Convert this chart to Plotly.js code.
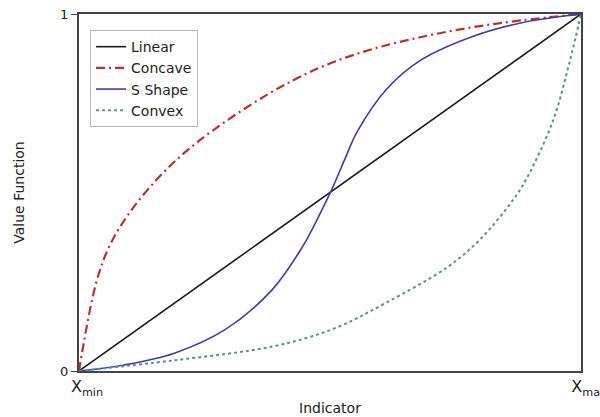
<!DOCTYPE html>
<html>
<head>
<meta charset="utf-8">
<script src="https://cdn.plot.ly/plotly-3.0.1.min.js"></script>
<style>html,body{margin:0;padding:0;background:#fff;}#chart{width:600px;height:417px;}</style>
</head>
<body>
<div id="chart"></div>
<script>
// Data (normalised indicator 0..1, value function 0..1)
const linearX = [0, 1];
const linearY = [0, 1];

const concaveX = [0, 0.007, 0.034, 0.06, 0.10, 0.16, 0.233, 0.37, 0.48, 0.58, 0.68, 0.78, 0.88, 1];
const concaveY = [0, 0.059, 0.246, 0.348, 0.442, 0.544, 0.638, 0.77, 0.85, 0.90, 0.935, 0.962, 0.982, 1];

const sShapeX = [0, 0.09, 0.19, 0.29, 0.385, 0.446, 0.48, 0.504, 0.53, 0.554, 0.613, 0.68, 0.78, 0.88, 1];
const sShapeY = [0, 0.017, 0.05, 0.115, 0.228, 0.35, 0.44, 0.51, 0.595, 0.67, 0.79, 0.87, 0.935, 0.975, 1];

const convexX = [0, 0.19, 0.39, 0.51, 0.61, 0.733, 0.80, 0.865, 0.89, 0.944, 0.978, 1];
const convexY = [0, 0.03, 0.07, 0.12, 0.19, 0.29, 0.37, 0.48, 0.535, 0.70, 0.87, 1];

const seriesNames = ['Linear', 'Concave', 'S Shape', 'Convex'];
const xTickVals = [0, 1];
const xTickText = ['X<sub>min</sub>', 'X<sub>max</sub>'];
const yTickVals = [0, 1];
const yTickText = ['0', '1'];

const traces = [
  {x: linearX, y: linearY, name: seriesNames[0], mode: 'lines',
   line: {color: '#1a1a1a', width: 1.6}},
  {x: concaveX, y: concaveY, name: seriesNames[1], mode: 'lines',
   line: {color: '#b8322c', width: 2.2, dash: '9px,4px,2px,4px', shape: 'spline', smoothing: 1}},
  {x: sShapeX, y: sShapeY, name: seriesNames[2], mode: 'lines',
   line: {color: '#3e3f9c', width: 1.6, shape: 'spline', smoothing: 1}},
  {x: convexX, y: convexY, name: seriesNames[3], mode: 'lines',
   line: {color: '#5f8f90', width: 2, dash: 'dot', shape: 'spline', smoothing: 1}}
];

const font = {family: '"DejaVu Sans", "Liberation Sans", Arial, sans-serif', color: '#222'};

const layout = {
  width: 600, height: 417,
  margin: {l: 79, r: 19, t: 14, b: 46},
  paper_bgcolor: '#fff', plot_bgcolor: '#fff',
  font: Object.assign({size: 14}, font),
  showlegend: true,
  legend: {
    x: 0.022, y: 0.955, xanchor: 'left', yanchor: 'top',
    bgcolor: '#fff', bordercolor: '#bbbbbb', borderwidth: 1,
    font: Object.assign({}, font, {size: 14}),
    tracegroupgap: 0, itemwidth: 30
  },
  xaxis: {
    range: [0, 1], tickvals: xTickVals, ticktext: xTickText,
    showgrid: false, zeroline: false, showline: true, mirror: true,
    linecolor: '#444', linewidth: 2, ticks: '', ticklabelshift: 8,
    ticklabeloverflow: 'allow',
    tickfont: Object.assign({}, font, {size: 16}),
    title: {text: 'Indicator', font: Object.assign({}, font, {size: 14}), standoff: 6}
  },
  yaxis: {
    range: [0, 1], tickvals: yTickVals, ticktext: yTickText,
    showgrid: false, zeroline: false, showline: true, mirror: true,
    linecolor: '#444', linewidth: 2, ticks: 'outside', ticklen: 6, tickcolor: '#444',
    tickfont: Object.assign({}, font, {size: 13}),
    title: {text: 'Value Function', font: Object.assign({}, font, {size: 14}), standoff: 32}
  }
};

Plotly.newPlot('chart', traces, layout, {staticPlot: true, displayModeBar: false});
</script>
</body>
</html>
